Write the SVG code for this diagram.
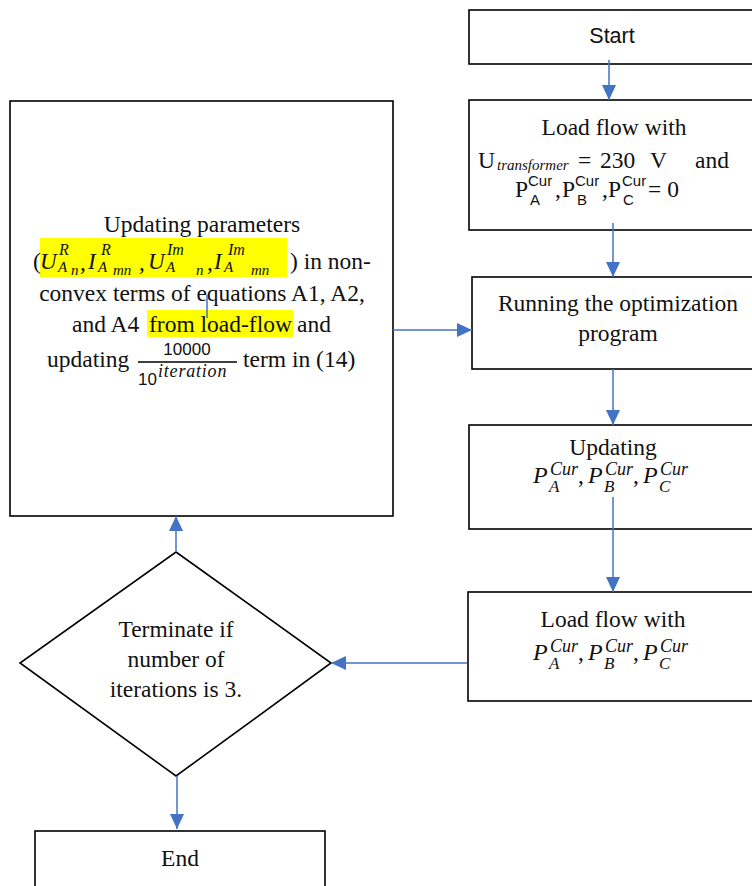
<svg xmlns="http://www.w3.org/2000/svg" width="752" height="886" viewBox="0 0 752 886">
<style>
.box{fill:#fff;stroke:#000;stroke-width:1.6}
.t{font-family:"Liberation Serif","Times New Roman",serif;font-size:23.5px;fill:#111}
.m{font-family:"Liberation Serif","Times New Roman",serif;font-style:italic;fill:#111}
.s{font-family:"Liberation Sans",Arial,sans-serif;fill:#111}
.c{text-anchor:middle}
.hl{fill:#ffff00}
.con{stroke:#4472C4;stroke-width:1.5;fill:none}
</style>
<defs>
<marker id="ah2" viewBox="0 0 15 14" refX="15" refY="7" markerWidth="15" markerHeight="14" markerUnits="userSpaceOnUse" orient="auto">
<path d="M0,0 L15,7 L0,14 z" fill="#4472C4"/>
</marker>
</defs>

<g id="start">
<rect class="box" x="469" y="10" width="300" height="54"/>
<text class="s c" x="612" y="43" font-size="21.5">Start</text>
</g>

<g id="loadflow1">
<rect class="box" x="469" y="100" width="300" height="130"/>
<text class="t c" x="614" y="135">Load flow with</text>
<text class="t" x="478" y="168">U</text>
<text class="m" x="497" y="170" font-size="15">transformer</text>
<text class="t" x="578" y="168">=</text>
<text class="t" x="600" y="168">230</text>
<text class="t" x="650" y="168">V</text>
<text class="t" x="729" y="168" text-anchor="end">and</text>
<text class="t" x="515" y="197">P</text>
<text class="s" x="528" y="186" font-size="15">Cur</text>
<text class="s" x="530" y="205" font-size="15">A</text>
<text class="t" x="555" y="197">,</text>
<text class="t" x="562" y="197">P</text>
<text class="s" x="575" y="186" font-size="15">Cur</text>
<text class="s" x="577" y="205" font-size="15">B</text>
<text class="t" x="602" y="197">,</text>
<text class="t" x="608" y="197">P</text>
<text class="s" x="622" y="186" font-size="15">Cur</text>
<text class="s" x="623" y="205" font-size="15">C</text>
<text class="t" x="648" y="197">= 0</text>
</g>

<g id="optimize">
<rect class="box" x="472" y="277" width="300" height="92"/>
<text class="t c" x="618" y="311">Running the optimization</text>
<text class="t c" x="618" y="341">program</text>
</g>

<g id="updating">
<rect class="box" x="469" y="425" width="300" height="104"/>
<text class="t c" x="613" y="455">Updating</text>
<text class="m" x="533" y="483" font-size="24">P</text>
<text class="m" x="550" y="475" font-size="18">Cur</text>
<text class="m" x="549" y="492" font-size="17">A</text>
<text class="t" x="578" y="483">,</text>
<text class="m" x="588" y="483" font-size="24">P</text>
<text class="m" x="605" y="475" font-size="18">Cur</text>
<text class="m" x="604" y="492" font-size="17">B</text>
<text class="t" x="633" y="483">,</text>
<text class="m" x="643" y="483" font-size="24">P</text>
<text class="m" x="660" y="475" font-size="18">Cur</text>
<text class="m" x="659" y="492" font-size="17">C</text>
</g>

<g id="loadflow2">
<rect class="box" x="468" y="592" width="300" height="109"/>
<text class="t c" x="613" y="627">Load flow with</text>
<text class="m" x="533" y="660" font-size="24">P</text>
<text class="m" x="550" y="652" font-size="18">Cur</text>
<text class="m" x="549" y="669" font-size="17">A</text>
<text class="t" x="578" y="660">,</text>
<text class="m" x="588" y="660" font-size="24">P</text>
<text class="m" x="605" y="652" font-size="18">Cur</text>
<text class="m" x="604" y="669" font-size="17">B</text>
<text class="t" x="633" y="660">,</text>
<text class="m" x="643" y="660" font-size="24">P</text>
<text class="m" x="660" y="652" font-size="18">Cur</text>
<text class="m" x="659" y="669" font-size="17">C</text>
</g>

<g id="update-params">
<rect class="box" x="10" y="101" width="383" height="415"/>
<rect class="hl" x="40" y="238" width="247" height="39"/>
<rect class="hl" x="147" y="310" width="146" height="27"/>
<text class="t c" x="202" y="232">Updating parameters</text>
<text class="t" x="33" y="269">(</text>
<text class="m" x="40" y="269" font-size="23">U</text>
<text class="m" x="59" y="255" font-size="16">R</text>
<text class="m" x="58" y="272" font-size="15">A</text>
<text class="m" x="71" y="275" font-size="15">n</text>
<text class="m" x="80" y="270" font-size="23">,</text>
<text class="m" x="88" y="269" font-size="23">I</text>
<text class="m" x="101" y="255" font-size="16">R</text>
<text class="m" x="98" y="272" font-size="15">A</text>
<text class="m" x="113" y="275" font-size="15">mn</text>
<text class="m" x="139" y="270" font-size="23">,</text>
<text class="m" x="148" y="269" font-size="23">U</text>
<text class="m" x="167" y="255" font-size="16">Im</text>
<text class="m" x="166" y="272" font-size="15">A</text>
<text class="m" x="196" y="275" font-size="15">n</text>
<text class="m" x="207" y="270" font-size="23">,</text>
<text class="m" x="214" y="269" font-size="23">I</text>
<text class="m" x="228" y="255" font-size="16">Im</text>
<text class="m" x="224" y="272" font-size="15">A</text>
<text class="m" x="251" y="275" font-size="15">mn</text>
<text class="t" x="290" y="269">) in non-</text>
<text class="t c" x="202" y="301">convex terms of equations A1, A2,</text>
<text class="t" x="72" y="332">and A4</text>
<text class="t" x="149" y="332">from load-flow</text>
<text class="t" x="297" y="332">and</text>
<text class="t" x="47" y="367">updating</text>
<text class="s c" x="187" y="355" font-size="17">10000</text>
<line x1="138" y1="362" x2="237" y2="362" stroke="#000" stroke-width="1.4"/>
<text class="s" x="138" y="385" font-size="17">10</text>
<text class="m" x="158" y="377" font-size="18" letter-spacing="0.8">iteration</text>
<text class="t" x="243" y="367">term in (14)</text>
</g>

<g id="decision">
<polygon class="box" points="176,552 331,663 176,776 20,663"/>
<text class="t c" x="176" y="637">Terminate if</text>
<text class="t c" x="176" y="667">number of</text>
<text class="t c" x="176" y="697">iterations is 3.</text>
</g>

<g id="end">
<rect class="box" x="35" y="831" width="290" height="70"/>
<text class="t c" x="180" y="866">End</text>
</g>

<g id="connectors">
<line class="con" x1="609" y1="60" x2="609" y2="100" marker-end="url(#ah2)"/>
<line class="con" x1="613" y1="223" x2="613" y2="277" marker-end="url(#ah2)"/>
<line class="con" x1="613" y1="369" x2="613" y2="425" marker-end="url(#ah2)"/>
<line class="con" x1="613" y1="497" x2="613" y2="592" marker-end="url(#ah2)"/>
<line class="con" x1="467" y1="663" x2="331" y2="663" marker-end="url(#ah2)"/>
<line class="con" x1="393" y1="330" x2="472" y2="330" marker-end="url(#ah2)"/>
<line class="con" x1="176" y1="552" x2="176" y2="516" marker-end="url(#ah2)"/>
<line class="con" x1="177" y1="776" x2="177" y2="829" marker-end="url(#ah2)"/>
<line class="con" x1="207" y1="295" x2="207" y2="318"/>
</g>
</svg>
